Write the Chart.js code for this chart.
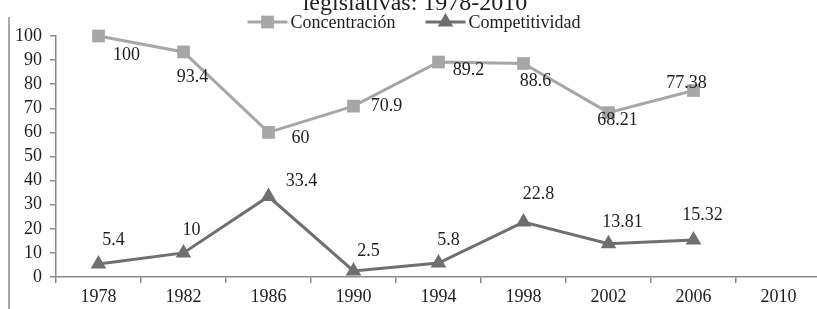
<!DOCTYPE html>
<html><head><meta charset="utf-8">
<script src="https://cdn.jsdelivr.net/npm/chart.js@4.4.1/dist/chart.umd.min.js"></script>
<style>
html,body{margin:0;padding:0;background:#fff;overflow:hidden;width:817px;height:309px}
#wrap{position:absolute;left:0;top:0;width:830px;height:309px}
</style></head>
<body><div id="wrap"><canvas id="c" width="830" height="309"></canvas></div>
<script>
// ---- data ----
const titleText = 'legislativas: 1978-2010';
const categories = ['1978', '1982', '1986', '1990', '1994', '1998', '2002', '2006', '2010'];
const seriesNames = ['Concentración', 'Competitividad'];
const concentracion = [100, 93.4, 60, 70.9, 89.2, 88.6, 68.21, 77.38, null];
const competitividad = [5.4, 10, 33.4, 2.5, 5.8, 22.8, 13.81, 15.32, null];
const yMin = 0, yMax = 100, yStep = 10;

// ---- style ----
const FONT = "'Liberation Serif', 'Times New Roman', serif";
const TEXT = '#1e1e1e';
const AXIS = '#8a8a8a';
const colors = ['#a6a6a6', '#6f6f6f'];
const pointStyles = ['rect', 'triangle'];
// label placement (offset from the point, px)
const labelOffsets = [
  [[28,19],[9,25],[32,6],[33,0],[30,8],[12,18],[9,8],[-7,-7]],
  [[15,-24],[8,-23],[33,-15],[15,-20],[10,-23],[15,-28],[14,-21],[9,-25]]
];

const seriesData = [concentracion, competitividad];

const decor = {
  id: 'decor',
  afterDraw(chart) {
    const ctx = chart.ctx;
    ctx.save();
    // left border line
    ctx.strokeStyle = '#8c8c8c';
    ctx.lineWidth = 1.5;
    ctx.beginPath(); ctx.moveTo(9, 17); ctx.lineTo(9, 309); ctx.stroke();
    // title (partly cut off at the top)
    ctx.fillStyle = TEXT;
    ctx.font = '24px ' + FONT;
    ctx.textAlign = 'center';
    ctx.textBaseline = 'alphabetic';
    ctx.fillText(titleText, 415, 10);
    // legend
    ctx.font = '18px ' + FONT;
    ctx.textBaseline = 'middle';
    ctx.textAlign = 'left';
    const ly = 22, lineW = 40, gapTxt = 3, gapItem = 30;
    const widths = seriesNames.map(n => ctx.measureText(n).width);
    let total = 0;
    widths.forEach((w, i) => { total += lineW + gapTxt + w + (i < widths.length - 1 ? gapItem : 0); });
    let x = 414 - total / 2;
    chart.data.datasets.forEach((ds, i) => {
      ctx.strokeStyle = ds.borderColor;
      ctx.lineWidth = 3;
      ctx.beginPath(); ctx.moveTo(x, ly); ctx.lineTo(x + lineW, ly); ctx.stroke();
      ctx.fillStyle = ds.borderColor;
      Chart.helpers.drawPoint(ctx, {pointStyle: ds.pointStyle, radius: ds.pointRadius, borderWidth: 0}, x + lineW / 2, ly);
      ctx.fillStyle = TEXT;
      ctx.fillText(seriesNames[i], x + lineW + gapTxt, ly + 1);
      x += lineW + gapTxt + widths[i] + gapItem;
    });
    // data labels
    ctx.font = '18px ' + FONT;
    ctx.textAlign = 'center';
    ctx.textBaseline = 'middle';
    ctx.fillStyle = TEXT;
    chart.data.datasets.forEach((ds, di) => {
      const meta = chart.getDatasetMeta(di);
      meta.data.forEach((pt, i) => {
        const v = ds.data[i];
        if (v === null || v === undefined) return;
        const off = labelOffsets[di][i] || [0, -15];
        ctx.fillText(String(v), pt.x + off[0], pt.y + off[1]);
      });
    });
    ctx.restore();
  }
};

new Chart(document.getElementById('c'), {
  type: 'line',
  data: {
    labels: categories,
    datasets: seriesData.map((d, i) => ({
      label: seriesNames[i],
      data: d,
      borderColor: colors[i],
      backgroundColor: colors[i],
      pointBackgroundColor: colors[i],
      pointBorderColor: colors[i],
      pointBorderWidth: 0,
      borderWidth: 3,
      pointStyle: pointStyles[i],
      pointRadius: 9,
      tension: 0,
      spanGaps: false,
      clip: false
    }))
  },
  options: {
    responsive: false,
    animation: false,
    events: [],
    layout: {padding: {top: 36, right: 9, bottom: 0, left: 0}},
    plugins: {legend: {display: false}, title: {display: false}, tooltip: {enabled: false}},
    scales: {
      x: {
        type: 'category',
        offset: true,
        grid: {display: true, offset: true, drawOnChartArea: false, drawTicks: true, tickLength: 6, color: AXIS, lineWidth: 1.5},
        border: {display: true, color: AXIS, width: 1.5},
        ticks: {color: TEXT, font: {family: FONT, size: 18}, padding: 3, maxRotation: 0, autoSkip: false},
        afterFit(s) { s.height = 32; }
      },
      y: {
        min: yMin, max: yMax,
        grid: {display: true, drawOnChartArea: false, drawTicks: true, tickLength: 6, color: AXIS, lineWidth: 1.5},
        border: {display: true, color: AXIS, width: 1.5},
        ticks: {stepSize: yStep, autoSkip: false, color: TEXT, font: {family: FONT, size: 18}, padding: 8},
        afterFit(s) { s.width = 56; }
      }
    }
  },
  plugins: [decor]
});
</script>
</body></html>
